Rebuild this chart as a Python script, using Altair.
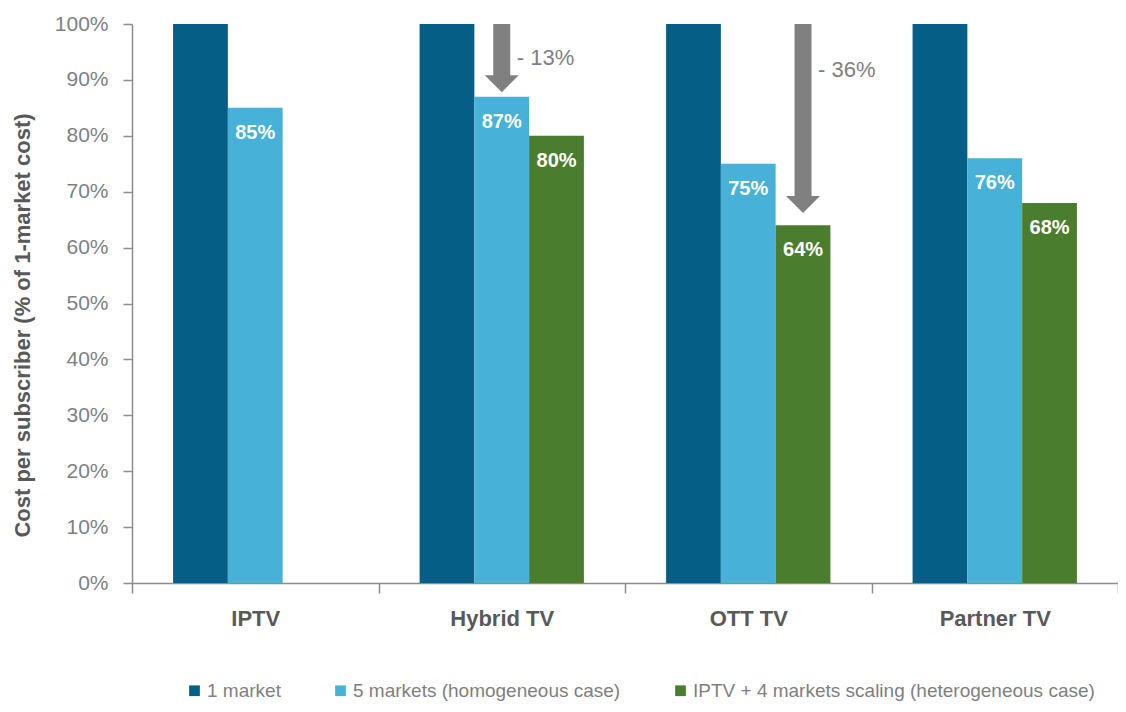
import altair as alt
import pandas as pd

# ---- data ----
categories = ["IPTV", "Hybrid TV", "OTT TV", "Partner TV"]
series_names = [
    "1 market",
    "5 markets (homogeneous case)",
    "IPTV + 4 markets scaling (heterogeneous case)",
]
one_market = [100, 100, 100, 100]
five_markets = [85, 87, 75, 76]
iptv_plus_four = [None, 80, 64, 68]
series_colors = ["#055e85", "#47b1d7", "#4b7d2f"]

# reduction arrows (start at 100%, tip just above the target bar)
arrow_categories = ["Hybrid TV", "OTT TV"]
arrow_series = [series_names[1], series_names[2]]
arrow_start = [100, 100]
arrow_tip = [87.8, 66.2]
arrow_texts = ["- 13%", "- 36%"]
arrow_text_y = [93.9, 91.7]

y_title = "Cost per subscriber (% of 1-market cost)"

# ---- tables ----
rows = []
for vals, s in zip([one_market, five_markets, iptv_plus_four], series_names):
    for c, v in zip(categories, vals):
        if v is not None:
            rows.append({"category": c, "series": s, "value": v, "label": f"{v}%"})
df = pd.DataFrame(rows)

arrows = pd.DataFrame({
    "category": arrow_categories,
    "series": arrow_series,
    "start": arrow_start,
    "shaft_end": [t + 2.5 for t in arrow_tip],
    "head": [t + 1.5 for t in arrow_tip],
    "text": arrow_texts,
    "text_y": arrow_text_y,
})

AXIS_GRAY = "#8c8c8c"
FONT = "Liberation Sans"

x_enc = alt.X(
    "category:N",
    sort=categories,
    scale=alt.Scale(paddingInner=0, paddingOuter=0),
    axis=alt.Axis(
        title=None,
        labelAngle=0,
        labelFontSize=22,
        labelFontWeight="bold",
        labelColor="#595959",
        labelPadding=15,
        tickBand="extent",
        tickSize=10,
        tickColor=AXIS_GRAY,
        tickWidth=1.5,
        domainColor=AXIS_GRAY,
        domainWidth=1.5,
        grid=False,
    ),
)
xo_enc = alt.XOffset(
    "series:N",
    sort=series_names,
    scale=alt.Scale(domain=series_names, paddingInner=0, paddingOuter=0.75),
)
y_scale = alt.Scale(domain=[0, 100], nice=False)
y_axis = alt.Axis(
    values=list(range(0, 101, 10)),
    labelExpr="datum.value + '%'",
    grid=False,
    domainColor=AXIS_GRAY,
    domainWidth=1.5,
    tickColor=AXIS_GRAY,
    tickWidth=1.5,
    tickSize=9,
    labelFontSize=21,
    labelColor="#7f7f7f",
    labelPadding=15,
    labelFlush=False,
    titleFontSize=22,
    titleFontWeight="bold",
    titleColor="#595959",
    titleX=-110,
    titleY=301,
    titleAlign="center",
    titleBaseline="middle",
    titleAngle=270,
)

bars = alt.Chart(df).mark_bar().encode(
    x=x_enc,
    xOffset=xo_enc,
    y=alt.Y("value:Q", scale=y_scale, title=y_title, axis=y_axis),
    color=alt.Color(
        "series:N",
        sort=series_names,
        scale=alt.Scale(domain=series_names, range=series_colors),
        legend=alt.Legend(
            title=None,
            orient="none",
            legendX=53,
            legendY=657,
            direction="horizontal",
            symbolType="square",
            symbolSize=115,
            symbolStrokeWidth=0,
            symbolOpacity=1,
            labelFontSize=19,
            labelColor="#7f7f7f",
            labelOffset=3,
            labelLimit=600,
            columnPadding=50,
        ),
    ),
)

value_labels = alt.Chart(df).transform_filter(
    alt.datum.series != series_names[0]
).mark_text(
    color="white", fontSize=20, fontWeight="bold", baseline="middle", dy=25
).encode(
    x=x_enc,
    xOffset=xo_enc,
    y=alt.Y("value:Q", scale=y_scale, title=y_title),
    text="label:N",
)

shafts = alt.Chart(arrows).mark_rule(strokeWidth=17, color="#808080").encode(
    x=x_enc,
    xOffset=xo_enc,
    y=alt.Y("start:Q", scale=y_scale, title=y_title),
    y2="shaft_end:Q",
)

heads = alt.Chart(arrows).mark_point(
    shape="M-1,-0.5L1,-0.5L0,0.5Z",
    size=1156,
    filled=True,
    color="#808080",
    opacity=1,
    strokeWidth=0,
).encode(
    x=x_enc,
    xOffset=xo_enc,
    y=alt.Y("head:Q", scale=y_scale, title=y_title),
)

arrow_labels = alt.Chart(arrows).mark_text(
    align="left", baseline="middle", dx=15, fontSize=22, color="#7f7f7f"
).encode(
    x=x_enc,
    xOffset=xo_enc,
    y=alt.Y("text_y:Q", scale=y_scale, title=y_title),
    text="text:N",
)

chart = (
    alt.layer(bars, value_labels, shafts, heads, arrow_labels)
    .properties(
        width=986,
        height=559,
        autosize=alt.AutoSizeParams(type="none"),
        padding={"left": 124, "top": 16, "right": 0, "bottom": 119},
        background="white",
    )
    .configure(font=FONT)
    .configure_view(stroke=None)
)

chart.save("out.html", embed_options={"renderer": "svg", "actions": False})
